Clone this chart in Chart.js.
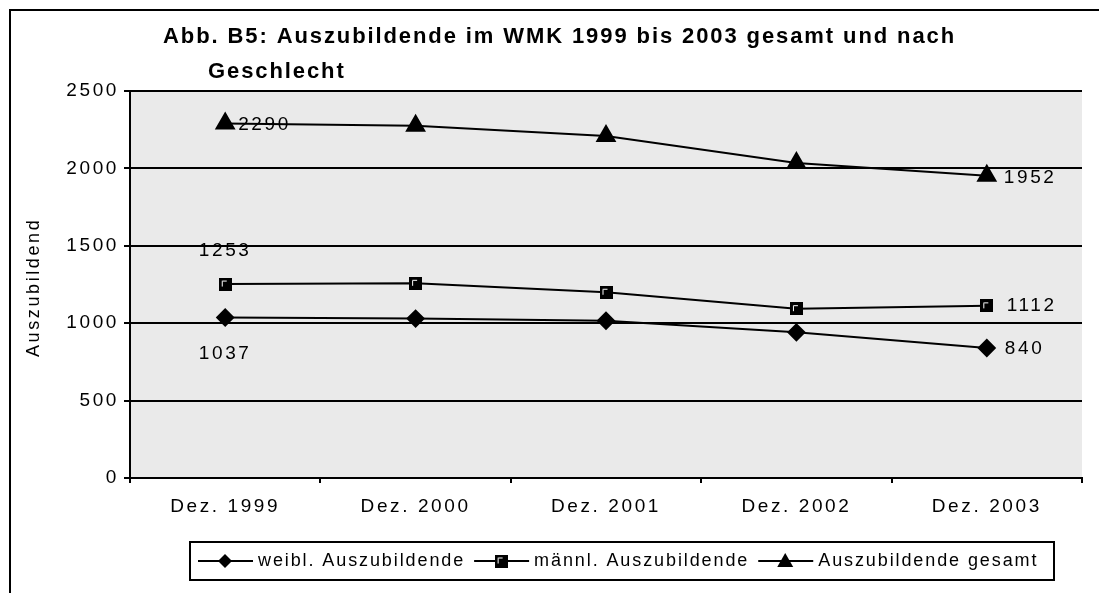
<!DOCTYPE html>
<html lang="de">
<head>
<meta charset="utf-8">
<title>Abb. B5: Auszubildende im WMK 1999 bis 2003</title>
<script src="https://cdn.jsdelivr.net/npm/chart.js@4.4.1/dist/chart.umd.min.js"></script>
<style>
  html, body { margin: 0; padding: 0; background: #fff; }
  #wrap { position: relative; width: 1099px; height: 593px; }
</style>
</head>
<body>
<div id="wrap"><canvas id="chart" width="1099" height="593"></canvas></div>
<script>
'use strict';

// Werte (Zwischenjahre geschätzt)
const categories = ['Dez. 1999', 'Dez. 2000', 'Dez. 2001', 'Dez. 2002', 'Dez. 2003'];
const weibl  = [1037, 1030, 1016, 941, 840];
const maennl = [1253, 1258, 1200, 1094, 1112];
const gesamt = [2290, 2275, 2210, 2035, 1952];
const yTicks = [0, 500, 1000, 1500, 2000, 2500];
const seriesNames = ['weibl. Auszubildende', 'männl. Auszubildende', 'Auszubildende gesamt'];
const titleLines = ['Abb. B5: Auszubildende im WMK 1999 bis 2003 gesamt und nach', 'Geschlecht'];
const yTitle = 'Auszubildende';
const labelledPoints = [0, 4]; // nur erster und letzter Wert beschriftet

const FONT = '"Liberation Sans", Arial, sans-serif';
const SPACING = '2.6px';

// Beschriftungs-Versatz je Serie: [erster Punkt, letzter Punkt] -> dx, dy, Ausrichtung
const labelOffsets = [
  [{ dx: 0, dy: 36, align: 'center' }, { dx: 18, dy: 1, align: 'left' }],
  [{ dx: 0, dy: -33, align: 'center' }, { dx: 20, dy: 0, align: 'left' }],
  [{ dx: 13, dy: 1, align: 'left' }, { dx: 17, dy: 2, align: 'left' }]
];

// Quadrat-Markierung wie im Original: schwarz mit heller Innenecke
function squareMarker(size) {
  const c = document.createElement('canvas');
  c.width = size; c.height = size;
  const g = c.getContext('2d');
  g.fillStyle = '#000';
  g.fillRect(0, 0, size, size);
  g.strokeStyle = '#fff';
  g.lineWidth = 1;
  g.beginPath();
  g.moveTo(3.5, size - 4);
  g.lineTo(3.5, 3.5);
  g.lineTo(size - 5, 3.5);
  g.stroke();
  return c;
}
const squareImg = squareMarker(13);

function drawMarker(ctx, type, x, y) {
  ctx.fillStyle = '#000';
  ctx.beginPath();
  if (type === 'diamond') {
    ctx.moveTo(x, y - 7); ctx.lineTo(x + 7, y); ctx.lineTo(x, y + 7); ctx.lineTo(x - 7, y);
    ctx.closePath(); ctx.fill();
  } else if (type === 'square') {
    ctx.drawImage(squareImg, x - 6.5, y - 6.5);
  } else {
    ctx.moveTo(x, y - 8); ctx.lineTo(x + 8, y + 6); ctx.lineTo(x - 8, y + 6);
    ctx.closePath(); ctx.fill();
  }
}

const decorPlugin = {
  id: 'decor',
  beforeDraw(chart) {
    const { ctx, chartArea: a } = chart;
    ctx.letterSpacing = SPACING;
    ctx.save();
    ctx.fillStyle = '#eaeaea';
    ctx.fillRect(a.left, a.top, a.right - a.left, a.bottom - a.top);
    ctx.restore();
  },
  afterDraw(chart) {
    const { ctx } = chart;
    ctx.save();
    // Rahmen
    ctx.strokeStyle = '#000';
    ctx.lineWidth = 2;
    ctx.beginPath();
    ctx.moveTo(10, 593); ctx.lineTo(10, 10); ctx.lineTo(1099, 10);
    ctx.stroke();

    // Titel
    ctx.letterSpacing = '1.9px';
    ctx.fillStyle = '#000';
    ctx.font = 'bold 22px ' + FONT;
    ctx.textBaseline = 'middle';
    ctx.textAlign = 'left';
    ctx.fillText(titleLines[0], 163, 37);
    ctx.fillText(titleLines[1], 208, 72);

    // Achsentitel (oben abgeschnitten wie im Original)
    ctx.letterSpacing = SPACING;
    ctx.font = '18px ' + FONT;
    ctx.save();
    ctx.beginPath();
    ctx.rect(0, 220, 120, 200);
    ctx.clip();
    ctx.translate(39, 357);
    ctx.rotate(-Math.PI / 2);
    ctx.textAlign = 'left';
    ctx.textBaseline = 'alphabetic';
    ctx.fillText(yTitle, 0, 0);
    ctx.restore();

    // Datenbeschriftungen
    ctx.font = '19px ' + FONT;
    ctx.textBaseline = 'middle';
    chart.data.datasets.forEach((ds, si) => {
      const meta = chart.getDatasetMeta(si);
      labelledPoints.forEach((idx, k) => {
        const pt = meta.data[idx];
        const o = labelOffsets[si][k];
        ctx.textAlign = o.align;
        ctx.fillText(String(ds.data[idx]), pt.x + o.dx, pt.y + o.dy);
      });
    });

    // Legende
    const box = { x: 190, y: 542, w: 864, h: 38 };
    ctx.lineWidth = 2;
    ctx.strokeRect(box.x, box.y, box.w, box.h);
    const cy = box.y + box.h / 2;
    const markers = ['diamond', 'square', 'triangle'];
    let x = box.x + 8;
    ctx.textAlign = 'left';
    ctx.font = '18px ' + FONT;
    ctx.letterSpacing = '1.9px';
    seriesNames.forEach((name, i) => {
      ctx.lineWidth = 2;
      ctx.beginPath();
      ctx.moveTo(x, cy); ctx.lineTo(x + 55, cy);
      ctx.stroke();
      drawMarker(ctx, markers[i], x + 27, cy);
      x += 60;
      ctx.fillText(name, x, cy);
      x += ctx.measureText(name).width + 9;
    });
    ctx.restore();
  }
};

const lineDefaults = {
  borderColor: '#000',
  backgroundColor: '#000',
  pointBorderColor: '#000',
  pointBackgroundColor: '#000',
  borderWidth: 2,
  tension: 0,
  fill: false
};

new Chart(document.getElementById('chart'), {
  type: 'line',
  data: {
    labels: categories,
    datasets: [
      { ...lineDefaults, label: seriesNames[0], data: weibl, pointStyle: 'rectRot', pointRadius: 8 },
      { ...lineDefaults, label: seriesNames[1], data: maennl, pointStyle: squareImg },
      { ...lineDefaults, label: seriesNames[2], data: gesamt, pointStyle: 'triangle', pointRadius: 10 }
    ]
  },
  options: {
    responsive: false,
    animation: false,
    events: [],
    layout: { padding: { left: 0, top: 91, right: 17, bottom: 65 } },
    plugins: {
      legend: { display: false },
      title: { display: false },
      tooltip: { enabled: false }
    },
    scales: {
      x: {
        offset: true,
        afterFit: (s) => { s.height = 50; },
        grid: { offset: true, drawOnChartArea: false, drawTicks: true, tickLength: 5, color: '#000', lineWidth: 2 },
        border: { color: '#000', width: 2 },
        ticks: { color: '#000', font: { family: FONT, size: 19 }, padding: 12 }
      },
      y: {
        min: 0,
        max: 2500,
        afterFit: (s) => { s.width = 130; },
        afterBuildTicks: (s) => { s.ticks = yTicks.map(v => ({ value: v })); },
        grid: { color: '#000', lineWidth: 2, tickLength: 6 },
        border: { color: '#000', width: 2 },
        ticks: { color: '#000', font: { family: FONT, size: 19 }, padding: 5, callback: (v) => String(v) }
      }
    }
  },
  plugins: [decorPlugin]
});
</script>
</body>
</html>
